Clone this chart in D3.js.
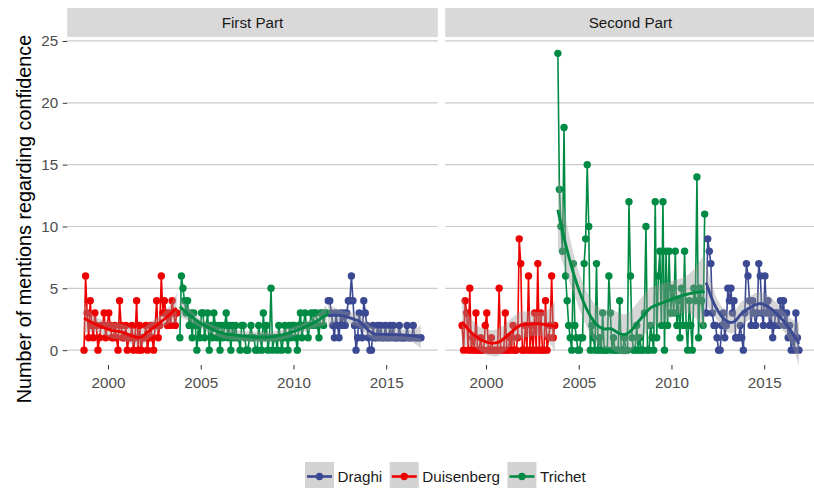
<!DOCTYPE html>
<html>
<head>
<meta charset="utf-8">
<script src="https://cdn.jsdelivr.net/npm/d3@7"></script>
<style>
  body { margin: 0; background: #ffffff; }
  svg { display: block; font-family: "Liberation Sans", Arial, Helvetica, sans-serif; }
</style>
</head>
<body>
<svg id="chart" width="814" height="488"></svg>
<script>
// ---- data ---------------------------------------------------------------
const speakers = ["Draghi", "Duisenberg", "Trichet"];
const speakerColors = ["#3B4992", "#EE0000", "#008B45"];
const parts = ["First Part", "Second Part"];
const yTicks = [0, 5, 10, 15, 20, 25];
const xTicks = [2000, 2005, 2010, 2015];
// first monthly press conference of each president: [year, month]
const firstMonth = { Draghi: [2011, 11], Duisenberg: [1998, 9], Trichet: [2003, 11] };

// monthly counts, First Part
const duisenbergFirst = [
  0, 6, 3, 1,
  4, 2, 1, 3, 2, 0, 1, 2, 2, 3, 1, 2,
  3, 2, 1, 1, 2, 1, 0, 4, 2, 1, 1, 2,
  0, 1, 1, 2, 0, 1, 4, 0, 2, 0, 1, 1,
  2, 0, 1, 2, 1, 0, 2, 4, 1, 2, 6, 3,
  4, 3, 2, 3, 2, 4, 3, 2, 3
];
const trichetFirst = [
  1, 6,
  5, 4, 3, 4, 2, 3, 1, 3, 2, 0, 2, 1,
  3, 3, 1, 2, 3, 0, 2, 1, 3, 2, 1, 2,
  0, 2, 1, 2, 3, 1, 2, 0, 2, 1, 2, 1,
  1, 0, 2, 2, 1, 0, 0, 1, 2, 1, 1, 0,
  0, 2, 1, 0, 3, 1, 2, 0, 1, 5, 0, 1,
  1, 0, 2, 1, 0, 1, 2, 1, 0, 2, 1, 2,
  2, 1, 0, 2, 3, 1, 2, 3, 2, 1, 2, 3,
  2, 3, 3, 2, 1, 3, 3, 2, 3, 3
];
const draghiFirst = [
  4, 4,
  3, 2, 1, 3, 2, 1, 3, 2, 3, 2, 3, 4,
  4, 6, 4, 2, 0, 1, 3, 2, 1, 4, 3, 2,
  1, 0, 0, 2, 1, 1, 2, 1, 2, 1, 1, 2,
  1, 1, 2, 1, 2, 1, 1, 1, 2, 1, 1, 1,
  1, 2, 1, 1, 1, 2, 1, 1, 1, 1, 1
];

// monthly counts, Second Part
const duisenbergSecond = [
  2, 0, 4, 3,
  0, 5, 0, 1, 0, 3, 0, 0, 1, 0, 0, 2,
  3, 0, 0, 1, 0, 0, 0, 0, 5, 0, 0, 0,
  3, 0, 0, 1, 0, 2, 0, 0, 1, 9, 7, 0,
  0, 2, 0, 6, 0, 2, 0, 3, 0, 7, 0, 3,
  0, 0, 4, 0, 1, 2, 6, 1, 2
];
const trichetSecond = [
  24, 13,
  10, 8, 18, 6, 4, 2, 1, 0, 7, 2, 1, 0,
  0, 1, 1, 7, 9, 15, 10, 0, 2, 1, 0, 7,
  0, 1, 0, 3, 0, 0, 0, 6, 3, 0, 1, 0,
  0, 0, 4, 0, 0, 1, 0, 0, 12, 6, 1, 0,
  0, 2, 0, 1, 0, 0, 3, 10, 0, 0, 2, 1,
  0, 12, 1, 6, 8, 2, 12, 0, 8, 2, 8, 3,
  5, 3, 8, 2, 4, 1, 5, 2, 8, 2, 0, 4,
  2, 0, 5, 4, 14, 1, 5, 4, 2, 11
];
const draghiSecond = [
  3, 9,
  8, 7, 3, 2, 2, 1, 0, 0, 2, 3, 1, 2,
  5, 4, 5, 3, 4, 1, 1, 1, 2, 1, 0, 3,
  7, 6, 4, 2, 4, 3, 2, 3, 7, 6, 3, 2,
  6, 3, 4, 2, 3, 1, 2, 3, 3, 2, 4, 3,
  4, 2, 3, 1, 2, 0, 1, 0, 3, 1, 0
];

const countsByPart = {
  "First Part":  { Draghi: draghiFirst,  Duisenberg: duisenbergFirst,  Trichet: trichetFirst },
  "Second Part": { Draghi: draghiSecond, Duisenberg: duisenbergSecond, Trichet: trichetSecond }
};

// ---- helpers ------------------------------------------------------------
// decimal year at the middle of the i-th month after the start month
function monthDates(start, n) {
  return d3.range(n).map(i => start[0] + (start[1] - 1 + i + 0.5) / 12);
}

// local quadratic regression (loess, tricube weights) -> operator row at x0
function loessRow(xs, x0, span) {
  const n = xs.length;
  const q = Math.floor(n * span);
  const d = xs.map(x => Math.abs(x - x0));
  const h = d.slice().sort((a, b) => a - b)[q - 1] * 1.000001;
  const w = d.map(v => { const r = v / h; return r < 1 ? Math.pow(1 - r * r * r, 3) : 0; });
  const m = [0, 0, 0, 0, 0];
  xs.forEach((x, i) => {
    const u = x - x0;
    let p = w[i];
    for (let k = 0; k < 5; k++) { m[k] += p; p *= u; }
  });
  const c00 = m[2] * m[4] - m[3] * m[3];
  const c01 = -(m[1] * m[4] - m[3] * m[2]);
  const c02 = m[1] * m[3] - m[2] * m[2];
  const det = m[0] * c00 + m[1] * c01 + m[2] * c02;
  return xs.map((x, i) => {
    const u = x - x0;
    return w[i] * (c00 + c01 * u + c02 * u * u) / det;
  });
}

function qt975(df) {
  const z = 1.959964;
  return z + (z ** 3 + z) / (4 * df) + (5 * z ** 5 + 16 * z ** 3 + 3 * z) / (96 * df * df);
}

// smooth with 95% confidence band, evaluated on 80 points
function loessSmooth(xs, ys, span = 0.75) {
  const n = xs.length;
  const L = xs.map(x0 => loessRow(xs, x0, span));
  const fitted = L.map(row => d3.sum(row, (l, j) => l * ys[j]));
  const rss = d3.sum(ys, (y, i) => (y - fitted[i]) ** 2);
  // (I - L)
  const A = L.map((row, i) => row.map((l, j) => (i === j ? 1 : 0) - l));
  // M = A^T A
  const M = [];
  for (let i = 0; i < n; i++) {
    M.push(new Float64Array(n));
    for (let j = 0; j < n; j++) {
      let s = 0;
      for (let k = 0; k < n; k++) s += A[k][i] * A[k][j];
      M[i][j] = s;
    }
  }
  let delta1 = 0, delta2 = 0;
  for (let i = 0; i < n; i++) {
    delta1 += M[i][i];
    for (let j = 0; j < n; j++) delta2 += M[i][j] * M[j][i];
  }
  const s = Math.sqrt(rss / delta1);
  const t = qt975(delta1 * delta1 / delta2);
  const [lo, hi] = d3.extent(xs);
  return d3.range(80).map(k => {
    const x0 = lo + (hi - lo) * k / 79;
    const row = loessRow(xs, x0, span);
    const fit = d3.sum(row, (l, j) => l * ys[j]);
    const se = s * Math.sqrt(d3.sum(row, l => l * l));
    return { x: x0, y: fit, ymin: fit - t * se, ymax: fit + t * se };
  });
}

// ---- layout -------------------------------------------------------------
const svg = d3.select("#chart");
const panelX = [67.2, 445.2];
const panelW = 370.6;
const panelTop = 38.5, panelBottom = 365;
const stripTop = 8, stripBottom = 37;

const allDates = [];
const allCounts = [];
parts.forEach(p => speakers.forEach(sp => {
  const vals = countsByPart[p][sp];
  allDates.push(...monthDates(firstMonth[sp], vals.length));
  allCounts.push(...vals);
}));
const [dMin, dMax] = d3.extent(allDates);
const dPad = (dMax - dMin) * 0.05;
const cMax = d3.max(allCounts);

const y = d3.scaleLinear()
  .domain([-cMax * 0.05, cMax * 1.05])
  .range([panelBottom, panelTop]);

const colorOf = d3.scaleOrdinal().domain(speakers).range(speakerColors);

parts.forEach((part, pi) => {
  const x = d3.scaleLinear()
    .domain([dMin - dPad, dMax + dPad])
    .range([panelX[pi], panelX[pi] + panelW]);

  // strip
  svg.append("rect")
    .attr("x", panelX[pi]).attr("y", stripTop)
    .attr("width", panelW).attr("height", stripBottom - stripTop)
    .attr("fill", "#d9d9d9");
  svg.append("text")
    .attr("x", panelX[pi] + panelW / 2).attr("y", (stripTop + stripBottom) / 2)
    .attr("dy", "0.35em")
    .attr("text-anchor", "middle")
    .attr("font-size", 15.2).attr("fill", "#1a1a1a")
    .text(part);

  // horizontal grid
  svg.append("g").selectAll("line").data(yTicks).join("line")
    .attr("x1", panelX[pi]).attr("x2", panelX[pi] + panelW)
    .attr("y1", d => y(d)).attr("y2", d => y(d))
    .attr("stroke", "#cbcbcb").attr("stroke-width", 1.2);

  // x axis
  const gx = svg.append("g")
    .attr("transform", `translate(0,${panelBottom})`)
    .call(d3.axisBottom(x).tickValues(xTicks).tickFormat(d3.format("d"))
      .tickSize(4.5).tickPadding(7.5));
  gx.select(".domain").remove();
  gx.selectAll("line").attr("stroke", "#333333");
  gx.selectAll("text").attr("font-size", 15.2).attr("fill", "#4d4d4d")
    .attr("font-family", null);

  // data
  const series = speakers.map(sp => {
    const vals = countsByPart[part][sp];
    const dates = monthDates(firstMonth[sp], vals.length);
    return { name: sp, points: vals.map((v, i) => ({ x: dates[i], y: v })) };
  });

  const line = d3.line().x(d => x(d.x)).y(d => y(d.y));
  const gPanel = svg.append("g");

  gPanel.append("g").selectAll("path").data(series).join("path")
    .attr("d", s => line(s.points))
    .attr("fill", "none")
    .attr("stroke", s => colorOf(s.name))
    .attr("stroke-width", 1.6)
    .attr("stroke-linejoin", "round");

  gPanel.append("g").selectAll("g").data(series).join("g")
    .attr("fill", s => colorOf(s.name))
    .selectAll("circle").data(s => s.points).join("circle")
    .attr("cx", d => x(d.x)).attr("cy", d => y(d.y)).attr("r", 3.7);

  const area = d3.area().x(d => x(d.x)).y0(d => y(d.ymin)).y1(d => y(d.ymax));
  const smoothLine = d3.line().x(d => x(d.x)).y(d => y(d.y));
  series.forEach(s => {
    const sm = loessSmooth(s.points.map(d => d.x), s.points.map(d => d.y));
    gPanel.append("path").attr("d", area(sm))
      .attr("fill", "#999999").attr("fill-opacity", 0.4);
    gPanel.append("path").attr("d", smoothLine(sm))
      .attr("fill", "none").attr("stroke", colorOf(s.name))
      .attr("stroke-width", 2.9).attr("stroke-linejoin", "round");
  });
});

// y axis (left panel only)
const gy = svg.append("g")
  .attr("transform", `translate(${panelX[0]},0)`)
  .call(d3.axisLeft(y).tickValues(yTicks).tickSize(4.5).tickPadding(4.5));
gy.select(".domain").remove();
gy.selectAll("line").attr("stroke", "#333333");
gy.selectAll("text").attr("font-size", 15.2).attr("fill", "#4d4d4d")
  .attr("font-family", null);

// y axis title
svg.append("text")
  .attr("transform", "translate(31,219) rotate(-90)")
  .attr("text-anchor", "middle")
  .attr("font-size", 19.8).attr("fill", "#000000")
  .text("Number of mentions regarding confidence");

// legend
const keySize = 29;
const legend = svg.append("g").attr("transform", "translate(305,462)");
let lx = 0;
speakers.forEach(sp => {
  const g = legend.append("g").attr("transform", `translate(${lx},0)`);
  g.append("rect").attr("width", keySize).attr("height", keySize).attr("fill", "#d3d3d3");
  g.append("line")
    .attr("x1", 2).attr("x2", keySize - 2)
    .attr("y1", keySize / 2).attr("y2", keySize / 2)
    .attr("stroke", colorOf(sp)).attr("stroke-width", 2.6);
  g.append("circle").attr("cx", keySize / 2).attr("cy", keySize / 2).attr("r", 3.7)
    .attr("fill", colorOf(sp));
  const t = g.append("text")
    .attr("x", keySize + 3.5).attr("y", 14.5).attr("dy", "0.35em")
    .attr("font-size", 15.2).attr("fill", "#1a1a1a")
    .text(sp);
  lx += keySize + 3.5 + t.node().getComputedTextLength() + 7.5;
});
</script>
</body>
</html>
